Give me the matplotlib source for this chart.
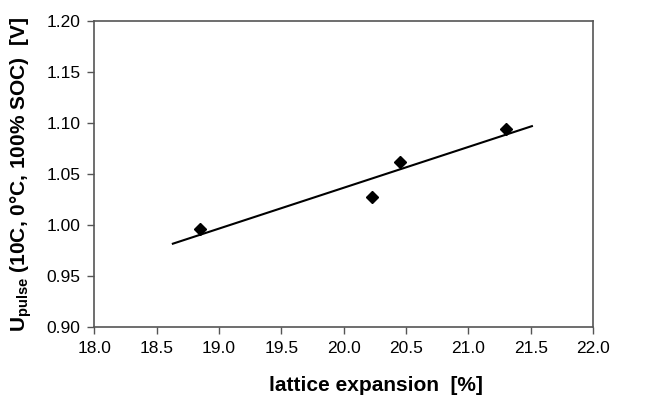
import numpy as np
import matplotlib
matplotlib.use("Agg")
import matplotlib.pyplot as plt

plt.rcParams['font.family'] = ['Liberation Sans', 'DejaVu Sans']
plt.rcParams['mathtext.fontset'] = 'custom'
plt.rcParams['mathtext.rm'] = 'Liberation Sans'
plt.rcParams['mathtext.bf'] = 'Liberation Sans:bold'

# measured points
lattice = [18.85, 20.23, 20.45, 21.30]
u_pulse = [0.996, 1.028, 1.062, 1.094]
# extent of the linear trend line
trend_x = [18.63, 21.51]

fig = plt.figure(figsize=(6.45, 3.98), dpi=100)
ax = fig.add_axes([0.1462, 0.1776, 0.7732, 0.7694])

coef = np.polyfit(lattice, u_pulse, 1)
tx = np.array(trend_x)
ax.plot(tx, np.polyval(coef, tx), color='black', lw=1.5)
ax.plot(lattice, u_pulse, 'D', color='black', ms=6.5, ls='none')

ax.set_xlim(18.0, 22.0)
ax.set_ylim(0.90, 1.20)
ax.set_xticks(np.arange(18.0, 22.01, 0.5))
ax.set_yticks(np.arange(0.90, 1.201, 0.05))
ax.set_xticklabels([f"{v:.1f}" for v in np.arange(18.0, 22.01, 0.5)])
ax.set_yticklabels([f"{v:.2f}" for v in np.arange(0.90, 1.201, 0.05)])
ax.tick_params(direction='out', length=5, width=1, color='#555555', labelsize=12.5, pad=5)

for s in ax.spines.values():
    s.set_color('#555555')
    s.set_linewidth(1.2)

ax.set_xlabel('lattice expansion  [%]', fontsize=15, fontweight='bold')
ax.xaxis.set_label_coords(0.565, -0.158)
ax.set_ylabel(r'$\mathbf{U_{pulse}}$ (10C, 0°C, 100% SOC)  [V]', fontsize=15,
              fontweight='bold', labelpad=9)

fig.savefig('out.png', dpi=100)
